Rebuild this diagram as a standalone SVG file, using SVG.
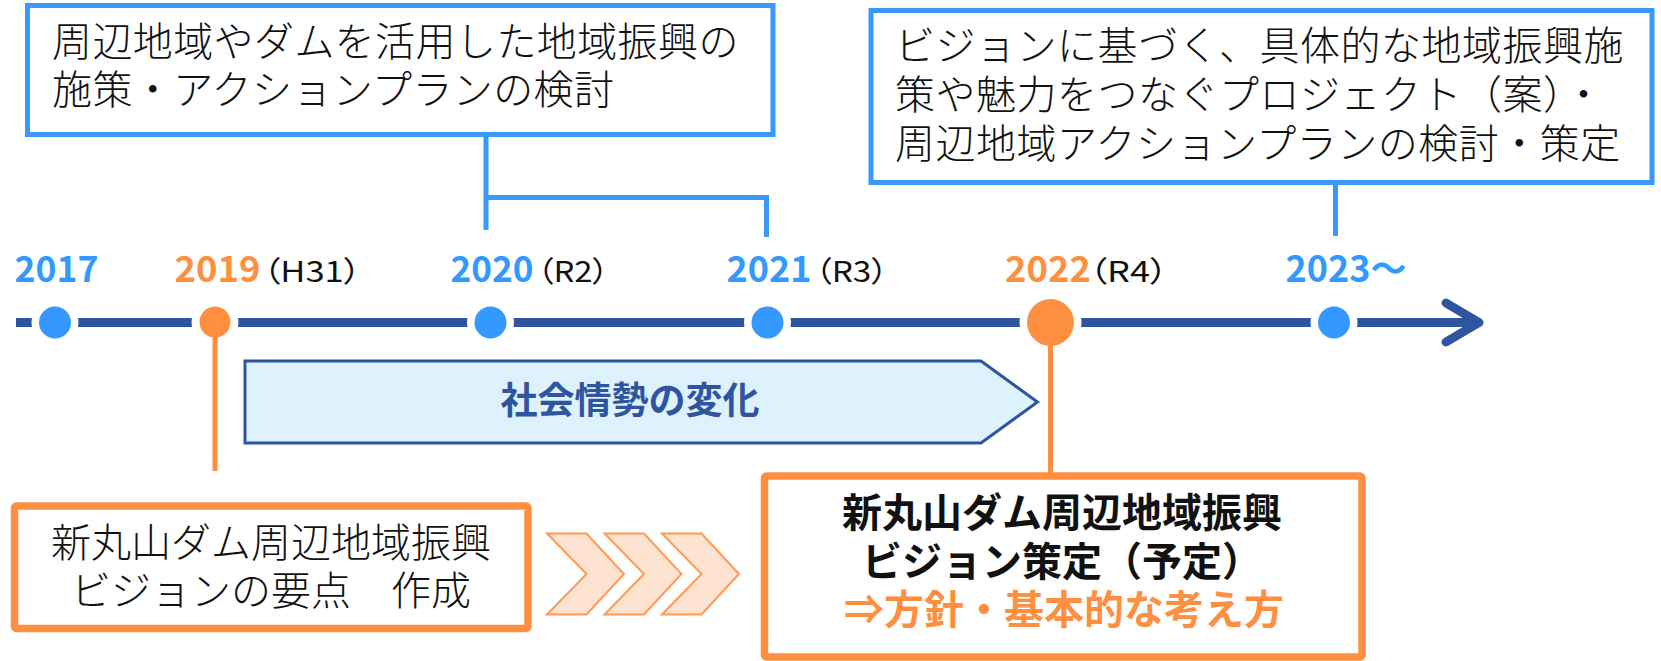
<svg xmlns="http://www.w3.org/2000/svg" width="1661" height="661" viewBox="0 0 1661 661">
  <style>
    .jp { font-family: 'Noto Sans CJK JP', 'Noto Sans', sans-serif; }
    .light { font-size: 40px; font-weight: 300; fill: #111; }
    .bold { font-size: 40px; font-weight: 700; fill: #111; }
    .year { font-size: 36px; font-weight: 700; }
    .era { font-size: 29px; font-weight: 400; fill: #111; font-feature-settings: 'palt' 1; }
    .blue { fill: #3399FF; }
    .orange { fill: #FF8F40; }
    .boxBlue { fill: #fff; stroke: #3999FA; stroke-width: 5; }
    .boxOrange { fill: #fff; stroke: #FF8F40; stroke-width: 7.5; }
    .connBlue { fill: none; stroke: #3999FA; stroke-width: 5; }
    .connOrange { fill: none; stroke: #FF8F40; stroke-width: 5; }
    .axis { fill: none; stroke: #2F55A0; stroke-width: 9; }
    .ring { fill: #fff; }
    .chev { fill: #FDE3D0; stroke: #FF9A55; stroke-width: 2; stroke-linejoin: miter; }
  </style>

  <!-- timeline axis -->
  <g id="timeline">
    <path class="axis" d="M16,322.5 H1477"/>
    <polyline class="axis" points="1446,303 1479,322.5 1446,342" stroke-linecap="round" stroke-linejoin="round"/>
  </g>

  <!-- year markers -->
  <g id="dot-2017"><circle class="ring" cx="55" cy="322.5" r="23.5"/><circle class="blue" cx="55" cy="322.5" r="16"/></g>
  <g id="dot-2019"><circle class="ring" cx="215" cy="322" r="23.5"/><circle class="orange" cx="215" cy="322" r="15.5"/></g>
  <g id="dot-2020"><circle class="ring" cx="490.5" cy="322.5" r="23.5"/><circle class="blue" cx="490.5" cy="322.5" r="16"/></g>
  <g id="dot-2021"><circle class="ring" cx="767.5" cy="322.5" r="23.5"/><circle class="blue" cx="767.5" cy="322.5" r="16"/></g>
  <g id="dot-2022"><circle class="ring" cx="1050.5" cy="322.5" r="31"/><circle class="orange" cx="1050.5" cy="322.5" r="23.5"/></g>
  <g id="dot-2023"><circle class="ring" cx="1334" cy="322.5" r="23.5"/><circle class="blue" cx="1334" cy="322.5" r="16"/></g>

  <!-- connectors -->
  <g id="connectors">
    <path class="connBlue" d="M486,135 V230"/>
    <path class="connBlue" d="M486,197.5 H766.5 V237"/>
    <path class="connBlue" d="M1335.5,183 V236"/>
    <path class="connOrange" d="M215,336 V471"/>
    <path class="connOrange" d="M1050.5,344 V473"/>
  </g>

  <!-- year labels -->
  <g id="label-2017" class="jp">
    <text class="year blue" x="14.5" y="282" textLength="84" lengthAdjust="spacingAndGlyphs">2017</text>
  </g>
  <g id="label-2019" class="jp">
    <text class="year orange" x="174.5" y="282" textLength="86" lengthAdjust="spacingAndGlyphs">2019</text>
    <text class="era" x="263" y="282" textLength="98" lengthAdjust="spacingAndGlyphs">（H31）</text>
  </g>
  <g id="label-2020" class="jp">
    <text class="year blue" x="450.5" y="282" textLength="83" lengthAdjust="spacingAndGlyphs">2020</text>
    <text class="era" x="537" y="282" textLength="72" lengthAdjust="spacingAndGlyphs">（R2）</text>
  </g>
  <g id="label-2021" class="jp">
    <text class="year blue" x="726.5" y="282" textLength="85" lengthAdjust="spacingAndGlyphs">2021</text>
    <text class="era" x="815" y="282" textLength="73" lengthAdjust="spacingAndGlyphs">（R3）</text>
  </g>
  <g id="label-2022" class="jp">
    <text class="year orange" x="1005" y="282" textLength="86" lengthAdjust="spacingAndGlyphs">2022</text>
    <text class="era" x="1089" y="282" textLength="79" lengthAdjust="spacingAndGlyphs">（R4）</text>
  </g>
  <g id="label-2023" class="jp">
    <text class="year blue" x="1285.5" y="282">2023～</text>
  </g>

  <!-- top-left box -->
  <g id="box-plan-2020">
    <rect class="boxBlue" x="27.5" y="5.5" width="745.5" height="129"/>
    <text class="jp light" letter-spacing="0.4"><tspan x="52" y="56">周辺地域やダムを活用した地域振興の</tspan><tspan x="52" y="104">施策・アクションプランの検討</tspan></text>
  </g>

  <!-- top-right box -->
  <g id="box-plan-2023">
    <rect class="boxBlue" x="871" y="10.5" width="781" height="172"/>
    <text class="jp light" letter-spacing="0.5"><tspan x="895" y="60">ビジョンに基づく、具体的な地域振興施</tspan><tspan x="895" y="108.5">策や魅力をつなぐプロジェクト（案）・</tspan><tspan x="895" y="157.5">周辺地域アクションプランの検討・策定</tspan></text>
  </g>

  <!-- social change arrow -->
  <g id="social-change">
    <polygon points="245,361 981,361 1037.5,402 981,443 245,443" fill="#DDF2FD" stroke="#2F55A0" stroke-width="3"/>
    <text class="jp" x="630" y="414" text-anchor="middle" font-size="37" font-weight="700" fill="#2F55A0">社会情勢の変化</text>
  </g>

  <!-- bottom-left box -->
  <g id="box-points-2019">
    <rect class="boxOrange" x="14.5" y="506" width="513.5" height="122.5" rx="2"/>
    <text class="jp light" text-anchor="middle"><tspan x="271" y="556.5">新丸山ダム周辺地域振興</tspan><tspan x="271" y="605">ビジョンの要点　作成</tspan></text>
  </g>

  <!-- chevrons -->
  <g id="chevrons">
    <polygon class="chev" points="547,533.5 586.5,533.5 624,574 586.5,614.5 547,614.5 586.5,574"/>
    <polygon class="chev" points="604.5,533.5 644,533.5 681.5,574 644,614.5 604.5,614.5 644,574"/>
    <polygon class="chev" points="662,533.5 701.5,533.5 739,574 701.5,614.5 662,614.5 701.5,574"/>
  </g>

  <!-- bottom-right box -->
  <g id="box-vision-2022">
    <rect class="boxOrange" x="764.5" y="476" width="597.5" height="181" rx="2"/>
    <text class="jp bold" text-anchor="middle"><tspan x="1062" y="527">新丸山ダム周辺地域振興</tspan><tspan x="1062" y="575.5">ビジョン策定（予定）</tspan><tspan x="1064" y="623.5" style="fill:#FF8F40">⇒方針・基本的な考え方</tspan></text>
  </g>
</svg>
